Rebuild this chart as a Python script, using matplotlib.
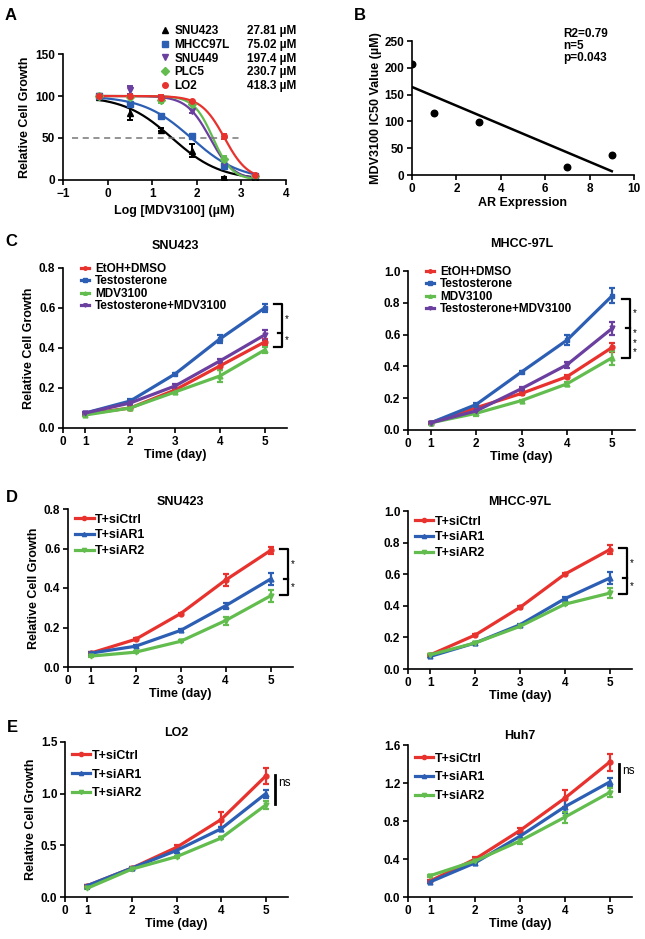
import numpy as np
import matplotlib
matplotlib.use("Agg")
import matplotlib.pyplot as plt
from matplotlib.lines import Line2D

plt.rcParams['font.family'] = ['Liberation Sans', 'DejaVu Sans']
plt.rcParams['font.weight'] = 'bold'
plt.rcParams['axes.labelweight'] = 'bold'
plt.rcParams['axes.linewidth'] = 1.2
plt.rcParams['xtick.major.width'] = 1.2
plt.rcParams['ytick.major.width'] = 1.2
plt.rcParams['xtick.major.size'] = 3.5
plt.rcParams['ytick.major.size'] = 3.5
plt.rcParams['xtick.labelsize'] = 8.5
plt.rcParams['ytick.labelsize'] = 8.5

RED = '#e8322e'
BLUE = '#2c5fb4'
GREEN = '#62bd4e'
PURPLE = '#6b3f9f'

# ---------------- panel A : dose response ----------------
log_dose = [-0.2, 0.5, 1.2, 1.9, 2.6, 3.3]
a_lines = ['SNU423', 'MHCC97L', 'SNU449', 'PLC5', 'LO2']
a_ic50 = [27.81, 75.02, 197.4, 230.7, 418.3]
a_ic50_txt = ['27.81 µM', '75.02 µM', '197.4 µM', '230.7 µM', '418.3 µM']
a_hill = [0.8, 0.8, 1.65, 2.0, 1.65]
a_vals = [
    [99, 80, 60, 35, 2, 2],
    [100, 91, 76, 52, 17, 5],
    [100, 107, 97, 82, 22, 3],
    [100, 99, 95, 90, 25, 5],
    [100, 100, 98, 94, 52, 6],
]
a_errs = [
    [1, 8, 2, 8, 1, 1],
    [1, 2, 3, 2, 2, 1],
    [1, 5, 2, 2, 3, 1],
    [1, 1, 3, 1, 3, 1],
    [1, 1, 3, 1, 3, 1],
]
a_colors = ['black', BLUE, PURPLE, GREEN, RED]
a_markers = ['^', 's', 'v', 'D', 'o']

# ---------------- panel B : IC50 vs AR ----------------
ar_expr = [0, 1, 3, 7, 9]
ic50_vals = [208, 115, 98, 14, 37]
b_stats = 'R2=0.79\nn=5\np=0.043'

# ---------------- growth panels ----------------
days = [1, 2, 3, 4, 5]
c_names = ['EtOH+DMSO', 'Testosterone', 'MDV3100', 'Testosterone+MDV3100']
c_colors = [RED, BLUE, GREEN, PURPLE]
c_markers = ['o', 's', '^', 'v']
c1_vals = [
    [0.070, 0.100, 0.190, 0.310, 0.430],
    [0.075, 0.135, 0.270, 0.445, 0.600],
    [0.065, 0.100, 0.180, 0.260, 0.390],
    [0.075, 0.125, 0.210, 0.335, 0.465],
]
c1_errs = [
    [0.005, 0.010, 0.005, 0.020, 0.015],
    [0.005, 0.008, 0.005, 0.020, 0.020],
    [0.005, 0.010, 0.005, 0.030, 0.015],
    [0.005, 0.008, 0.012, 0.008, 0.025],
]
c2_vals = [
    [0.045, 0.140, 0.230, 0.335, 0.520],
    [0.045, 0.160, 0.365, 0.565, 0.845],
    [0.045, 0.105, 0.185, 0.290, 0.455],
    [0.045, 0.120, 0.260, 0.410, 0.640],
]
c2_errs = [
    [0.005, 0.010, 0.008, 0.008, 0.030],
    [0.005, 0.008, 0.008, 0.030, 0.045],
    [0.005, 0.020, 0.005, 0.015, 0.045],
    [0.005, 0.008, 0.008, 0.020, 0.040],
]

d_names = ['T+siCtrl', 'T+siAR1', 'T+siAR2']
d_colors = [RED, BLUE, GREEN]
d_markers = ['o', '^', 'v']
d1_vals = [
    [0.070, 0.140, 0.270, 0.440, 0.590],
    [0.070, 0.105, 0.185, 0.310, 0.445],
    [0.055, 0.075, 0.130, 0.235, 0.360],
]
d1_errs = [
    [0.005, 0.005, 0.005, 0.030, 0.020],
    [0.005, 0.005, 0.005, 0.015, 0.030],
    [0.005, 0.005, 0.005, 0.020, 0.030],
]
d2_vals = [
    [0.090, 0.215, 0.390, 0.600, 0.755],
    [0.080, 0.165, 0.280, 0.445, 0.575],
    [0.090, 0.165, 0.270, 0.410, 0.480],
]
d2_errs = [
    [0.005, 0.005, 0.008, 0.008, 0.030],
    [0.005, 0.005, 0.005, 0.008, 0.040],
    [0.005, 0.005, 0.005, 0.008, 0.030],
]
e1_vals = [
    [0.110, 0.280, 0.480, 0.750, 1.170],
    [0.110, 0.280, 0.450, 0.660, 1.000],
    [0.085, 0.270, 0.390, 0.570, 0.890],
]
e1_errs = [
    [0.010, 0.010, 0.020, 0.070, 0.080],
    [0.010, 0.010, 0.020, 0.020, 0.040],
    [0.010, 0.010, 0.010, 0.010, 0.040],
]
e2_vals = [
    [0.170, 0.400, 0.700, 1.040, 1.420],
    [0.160, 0.360, 0.640, 0.950, 1.210],
    [0.225, 0.380, 0.590, 0.840, 1.100],
]
e2_errs = [
    [0.010, 0.020, 0.030, 0.090, 0.090],
    [0.010, 0.010, 0.020, 0.070, 0.040],
    [0.010, 0.010, 0.030, 0.060, 0.050],
]

# significance brackets: (top, middle, bottom, labels)
c1_sig = (0.62, 0.474, 0.407, ['*', '*'])
c2_sig = (0.824, 0.644, 0.455, ['*', '*\n*\n*'])
d1_sig = (0.60, 0.446, 0.365, ['*', '*'])
d2_sig = (0.768, 0.573, 0.474, ['*', '*'])
e1_ns = (1.18, 0.90)
e2_ns = (1.40, 1.12)

fig = plt.figure(figsize=(6.45, 9.39), dpi=100)


def px_axes(x0, y0, x1, y1):
    W, H = 645.0, 939.0
    return fig.add_axes([x0 / W, 1 - y1 / H, (x1 - x0) / W, (y1 - y0) / H])


def style(ax):
    for s in ['top', 'right']:
        ax.spines[s].set_visible(False)
    ax.tick_params(direction='out', pad=2)
    for lab in ax.get_xticklabels() + ax.get_yticklabels():
        lab.set_fontweight('bold')


def growth(ax, vals, errs, names, colors, markers, ylim, yticks, title, pad):
    for v, e, n, c, m in zip(vals, errs, names, colors, markers):
        ax.errorbar(days, v, yerr=e, color=c, marker=m, ms=3.5, lw=2.3,
                    elinewidth=1.6, capsize=2.5, capthick=1.6)
    ax.set_xlim(0.5, 5.5)
    ax.set_xticks([0.5, 1, 2, 3, 4, 5])
    ax.set_xticklabels(['0', '1', '2', '3', '4', '5'])
    ax.set_ylim(*ylim)
    ax.set_yticks(yticks)
    ax.set_title(title, fontsize=9, fontweight='bold', pad=pad)
    ax.set_xlabel('Time (day)', fontsize=9, labelpad=1)
    style(ax)


def handles(colors, markers, ms):
    return [Line2D([], [], color=c, marker=m, ms=ms, lw=2.3)
            for c, m in zip(colors, markers)]


def bracket(ax, sig, x0=5.22, x1=5.38, xs=5.5):
    top, mid, bot, labs = sig
    ax.plot([x0, x1, x1, x0], [top, top, bot, bot], color='black', lw=1.6,
            clip_on=False)
    ax.plot([x1 - 0.08, x1], [mid, mid], color='black', lw=1.6, clip_on=False)
    ax.text(xs, (top + mid) / 2, labs[0], ha='center', va='center', fontsize=7,
            fontweight='normal', linespacing=0.9)
    ax.text(xs, (mid + bot) / 2, labs[1], ha='center', va='center', fontsize=7,
            fontweight='normal', linespacing=0.9)


# ---- A
axA = px_axes(63, 54, 286, 180)
xs = np.linspace(-0.2, 3.3, 200)
for name, ic, h, v, e, c, m in zip(a_lines, a_ic50, a_hill, a_vals, a_errs,
                                    a_colors, a_markers):
    axA.plot(xs, 100 / (1 + 10 ** (h * (xs - np.log10(ic)))), color=c, lw=1.6)
    axA.errorbar(log_dose, v, yerr=e, fmt=m, color=c, ms=4, elinewidth=1.4,
                 capsize=2.5, capthick=1.4)
axA.plot([-0.8, 3.0], [50, 50], ls=(0, (4, 3)), color='#777777', lw=1.1)
axA.set_xlim(-1, 4)
axA.set_ylim(0, 150)
axA.set_xticks(range(-1, 5))
axA.set_xticklabels(['\u22121', '0', '1', '2', '3', '4'])
axA.set_yticks([0, 50, 100, 150])
axA.set_xlabel('Log [MDV3100] (µM)', fontsize=9, labelpad=4)
axA.set_ylabel('Relative Cell Growth', fontsize=9, labelpad=3)
style(axA)
hA = [Line2D([], [], ls='none', marker=m, color=c, ms=4)
      for m, c in zip(a_markers, a_colors)]
fig.legend(hA, a_lines, loc='upper left', bbox_to_anchor=(160 / 645, 1 - 25 / 939),
           frameon=False, fontsize=8.5, handlelength=0.8, handletextpad=0.4,
           labelspacing=0.15, borderpad=0, borderaxespad=0)
blank = [Line2D([], [], ls='none') for _ in a_lines]
fig.legend(blank, a_ic50_txt, loc='upper right', bbox_to_anchor=(296 / 645, 1 - 25 / 939),
           frameon=False, fontsize=8.5, handlelength=0, handletextpad=0,
           labelspacing=0.15, borderpad=0, borderaxespad=0)

# ---- B
axB = px_axes(412, 41, 634, 175)
axB.scatter(ar_expr, ic50_vals, color='black', s=22, zorder=3)
k, b0 = np.polyfit(ar_expr, ic50_vals, 1)
fx = np.array([min(ar_expr), max(ar_expr)])
axB.plot(fx, k * fx + b0, color='black', lw=1.8)
axB.set_xlim(0, 10)
axB.set_ylim(0, 250)
axB.set_xticks(range(0, 11, 2))
axB.set_yticks(range(0, 251, 50))
axB.set_xlabel('AR Expression', fontsize=9, labelpad=2)
axB.set_ylabel('MDV3100 IC50 Value (µM)', fontsize=9, labelpad=2)
axB.text(0.68, 1.1, b_stats, transform=axB.transAxes, ha='left', va='top',
         fontsize=8.5, fontweight='bold', linespacing=1.05)
style(axB)

# ---- C
axC1 = px_axes(63, 268, 287, 428)
growth(axC1, c1_vals, c1_errs, c_names, c_colors, c_markers, (0, 0.8),
       [0, 0.2, 0.4, 0.6, 0.8], 'SNU423', 14)
axC1.set_ylabel('Relative Cell Growth', fontsize=9, labelpad=3)
bracket(axC1, c1_sig)
axC2 = px_axes(408, 271, 635, 430)
growth(axC2, c2_vals, c2_errs, c_names, c_colors, c_markers, (0, 1.0),
       [0, 0.2, 0.4, 0.6, 0.8, 1.0], 'MHCC-97L', 17)
bracket(axC2, c2_sig)
for ax in (axC1, axC2):
    ax.legend(handles(c_colors, c_markers, 2.5), c_names, loc='upper left',
              bbox_to_anchor=(0.08, 1.03), frameon=False,
              fontsize=8.5, handlelength=0.7, handletextpad=0.5,
              labelspacing=0.02, borderpad=0, borderaxespad=0)

# ---- D
axD1 = px_axes(68, 509, 293, 667)
growth(axD1, d1_vals, d1_errs, d_names, d_colors, d_markers, (0, 0.8),
       [0, 0.2, 0.4, 0.6, 0.8], 'SNU423', 3)
axD1.set_ylabel('Relative Cell Growth', fontsize=9, labelpad=3)
bracket(axD1, d1_sig)
axD2 = px_axes(408, 511, 632, 669)
growth(axD2, d2_vals, d2_errs, d_names, d_colors, d_markers, (0, 1.0),
       [0, 0.2, 0.4, 0.6, 0.8, 1.0], 'MHCC-97L', 4)
bracket(axD2, d2_sig)

# ---- E
axE1 = px_axes(65, 742, 288, 897)
growth(axE1, e1_vals, e1_errs, d_names, d_colors, d_markers, (0, 1.5),
       [0, 0.5, 1.0, 1.5], 'LO2', 4)
axE1.set_ylabel('Relative Cell Growth', fontsize=9, labelpad=3)
axE2 = px_axes(408, 745, 632, 897)
growth(axE2, e2_vals, e2_errs, d_names, d_colors, d_markers, (0, 1.6),
       [0, 0.4, 0.8, 1.2, 1.6], 'Huh7', 4)
for ax, ns in ((axE1, e1_ns), (axE2, e2_ns)):
    ax.plot([5.2, 5.2], ns, color='black', lw=2, clip_on=False)
    ax.text(5.27, (ns[0] + ns[1]) / 2 + 0.04 * ax.get_ylim()[1], 'ns',
            fontsize=8.5, fontweight='normal', va='center')
for ax in (axD1, axD2):
    ax.legend(handles(d_colors, d_markers, 3), d_names, loc='upper left',
              bbox_to_anchor=(0.03, 0.97), frameon=False,
              fontsize=9, handlelength=1.5, handletextpad=0.1,
              labelspacing=0.3, borderpad=0, borderaxespad=0)
for ax in (axE1, axE2):
    ax.legend(handles(d_colors, d_markers, 3), d_names, loc='upper left',
              bbox_to_anchor=(0.03, 0.95), frameon=False,
              fontsize=9, handlelength=1.5, handletextpad=0.1,
              labelspacing=0.55, borderpad=0, borderaxespad=0)

# panel letters
for lab, x, y in [('A', 11, 15), ('B', 360, 15), ('C', 11, 242),
                  ('D', 12, 498), ('E', 12, 727)]:
    fig.text(x / 645, 1 - y / 939, lab, fontsize=12, fontweight='bold',
             ha='center', va='center')

fig.savefig('out.png', dpi=100)
